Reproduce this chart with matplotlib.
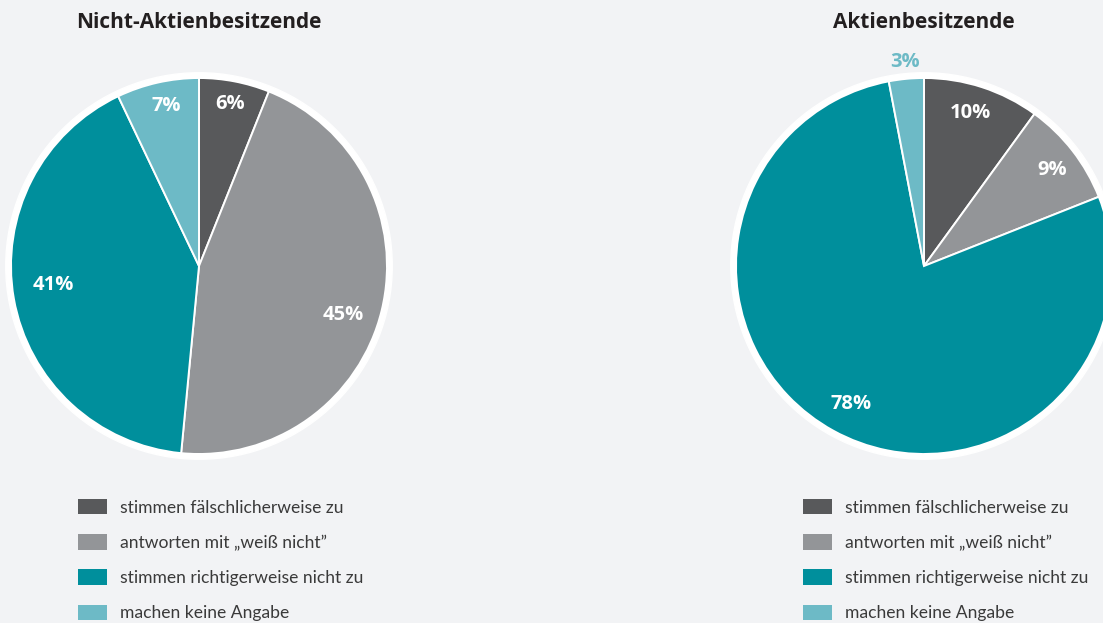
import numpy as np
import matplotlib.pyplot as plt
from matplotlib.patches import Circle, Patch

categories = ["stimmen fälschlicherweise zu", "antworten mit \u201eweiß nicht\u201d",
              "stimmen richtigerweise nicht zu", "machen keine Angabe"]
colors = ["#58595b", "#939598", "#008f9c", "#6dbac6"]

titles = ["Nicht-Aktienbesitzende", "Aktienbesitzende"]
values_nicht = [6, 45, 41, 7]
values_aktien = [10, 9, 78, 3]

# label placement: (radius fraction, angle offset in degrees)
label_pos_nicht = [(0.88, 0), (0.81, -5), (0.78, -2.5), (0.87, -1)]
label_pos_aktien = [(0.85, 1), (0.85, -1), (0.83, 1), (1.09, 0)]

bg = "#f2f3f5"
plt.rcParams['font.family'] = ['Open Sans', 'DejaVu Sans']

W, H = 1103, 623
fig = plt.figure(figsize=(W / 100, H / 100), dpi=100, facecolor=bg)

R_PX = 188
LIM = 1.15


def draw_pie(cx, cy, values, title, label_pos, legend_x):
    size = 2 * LIM * R_PX
    ax = fig.add_axes([(cx - size / 2) / W, 1 - (cy + size / 2) / H, size / W, size / H])
    ax.add_patch(Circle((0, 0), 1.028, color='white', zorder=0, clip_on=False))
    wedges, _ = ax.pie(values, colors=colors, startangle=90, counterclock=False,
                       wedgeprops=dict(edgecolor='white', linewidth=1.4))
    ax.set_xlim(-LIM, LIM)
    ax.set_ylim(-LIM, LIM)
    ax.set_aspect('equal')
    ax.axis('off')
    for w in wedges:
        w.set_clip_on(False)
    for i, w in enumerate(wedges):
        r, off = label_pos[i]
        ang = np.deg2rad((w.theta1 + w.theta2) / 2 + off)
        col = 'white' if r < 1 else colors[i]
        ax.text(r * np.cos(ang), r * np.sin(ang), f"{values[i]}%", ha='center', va='center',
                fontsize=14.5, fontweight='bold', color=col, clip_on=False)
    fig.text(cx / W, 1 - 23 / H, title, ha='center', va='center', fontsize=15,
             fontweight='bold', color='#231f20')
    handles = [Patch(facecolor=c, edgecolor='none') for c in colors]
    fig.legend(handles, categories, loc='upper left',
               bbox_to_anchor=(legend_x / W, 1 - 499 / H), frameon=False,
               prop={'family': ['Lato', 'DejaVu Sans'], 'size': 12.6},
               handlelength=1.66, handleheight=0.97, handletextpad=0.75,
               labelspacing=1.06, borderpad=0, borderaxespad=0, labelcolor='#3a3a3a')


draw_pie(199, 266, values_nicht, titles[0], label_pos_nicht, 78)
draw_pie(924, 266, values_aktien, titles[1], label_pos_aktien, 803)

fig.savefig("out.png", dpi=100, facecolor=bg)
